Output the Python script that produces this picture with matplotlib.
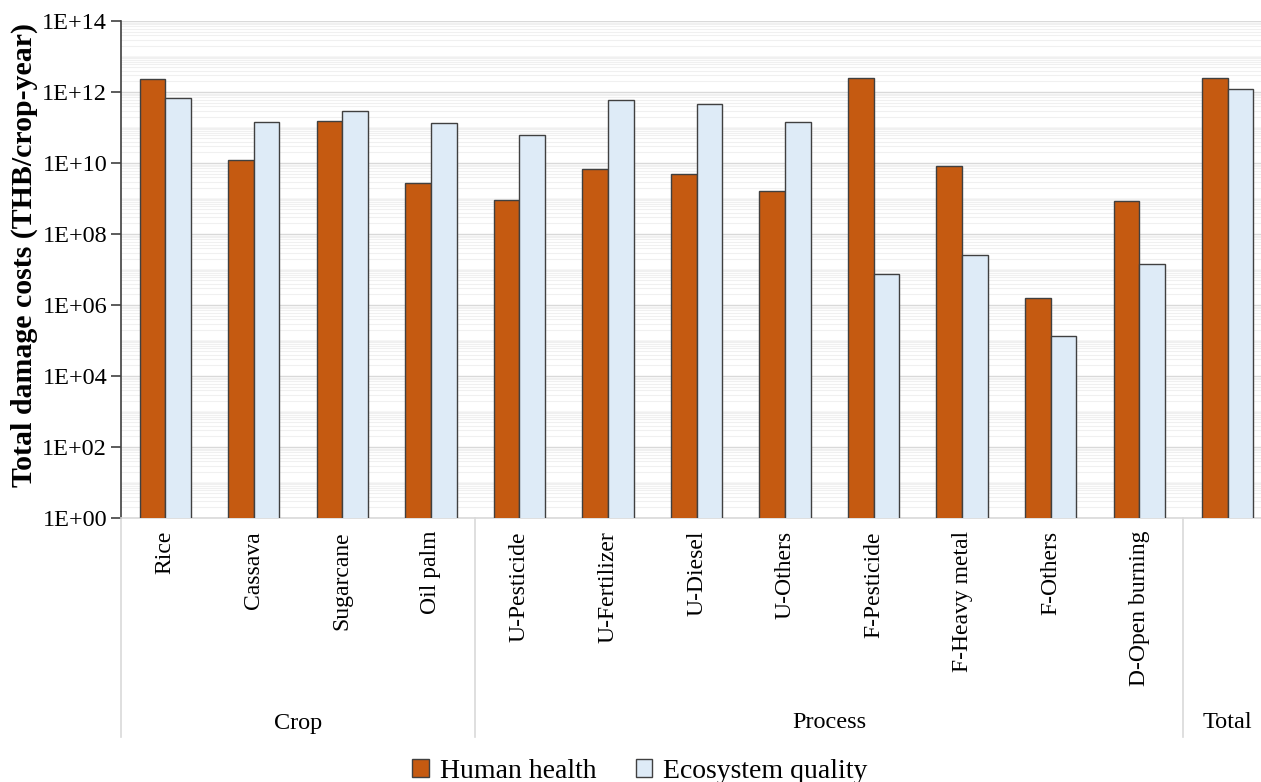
import numpy as np
import matplotlib
matplotlib.use("Agg")
import matplotlib.pyplot as plt
from matplotlib.patches import Patch
from matplotlib.ticker import LogLocator, NullFormatter, FixedLocator
import matplotlib.transforms as mtransforms

plt.rcParams["font.family"] = ["Liberation Serif", "DejaVu Serif"]

categories = ["Rice", "Cassava", "Sugarcane", "Oil palm",
              "U-Pesticide", "U-Fertilizer", "U-Diesel", "U-Others",
              "F-Pesticide", "F-Heavy metal", "F-Others", "D-Open burning",
              ""]
groups = ["Crop", "Process", "Total"]
group_sizes = [4, 8, 1]

human_health = [2.3e12, 1.2e10, 1.5e11, 2.7e9,
                9.0e8, 6.8e9, 4.9e9, 1.6e9,
                2.5e12, 8.3e9, 1.6e6, 8.5e8,
                2.5e12]
ecosystem_quality = [6.8e11, 1.4e11, 2.9e11, 1.3e11,
                     6.2e10, 5.9e11, 4.6e11, 1.4e11,
                     7.4e6, 2.6e7, 1.3e5, 1.4e7,
                     1.2e12]

HH_COLOR = "#C55A11"
EQ_COLOR = "#DEEBF7"
EDGE = "#404040"

fig = plt.figure(figsize=(12.61, 7.82), dpi=100)
ax = fig.add_axes([121 / 1261, 1 - 518 / 782, 1151 / 1261, 497 / 782])

x = np.arange(len(categories))
w = 0.29
ax.bar(x - w / 2, human_health, w, color=HH_COLOR, edgecolor=EDGE,
       linewidth=1.0, zorder=3, label="Human health")
ax.bar(x + w / 2, ecosystem_quality, w, color=EQ_COLOR, edgecolor=EDGE,
       linewidth=1.0, zorder=3, label="Ecosystem quality")

ax.set_yscale("log")
ax.set_ylim(1, 1e14)
ax.set_xlim(-0.5, len(categories) - 0.5)

ax.yaxis.set_major_locator(FixedLocator([10.0 ** k for k in range(0, 15, 2)]))
ax.set_yticklabels([f"1E+{k:02d}" for k in range(0, 15, 2)], fontsize=17.5)
ax.yaxis.set_minor_locator(LogLocator(base=10, subs=np.arange(1, 10), numticks=100))
ax.yaxis.set_minor_formatter(NullFormatter())
ax.tick_params(axis="y", which="major", length=7, width=1.2, color="#404040", pad=3)
ax.tick_params(axis="y", which="minor", length=0)

# gridlines: every decade darker, the in-between values faint
for k in range(0, 15):
    ax.axhline(10.0 ** k, color="#d9d9d9", linewidth=1.0, zorder=0)
ax.grid(True, which="minor", axis="y", color="#f0f0f0", linewidth=0.8, zorder=0)

ax.set_xticks([])
for side in ["top", "right"]:
    ax.spines[side].set_visible(False)
ax.spines["left"].set_color("#404040")
ax.spines["left"].set_linewidth(1.2)
ax.spines["bottom"].set_color("#d9d9d9")
ax.spines["bottom"].set_linewidth(1.2)

ax.set_ylabel("Total damage costs (THB/crop-year)", fontsize=21.5,
              fontweight="bold")
ax.yaxis.set_label_coords(-83 / 1151, (518 - 255) / 497)

# category labels (rotated) and group labels under the axis
trans = mtransforms.blended_transform_factory(ax.transData, ax.transAxes)
px = 1.0 / 497  # one pixel in axes fraction (vertical)
for xi, lab in zip(x, categories):
    ax.text(xi, -13 * px, lab, transform=trans, rotation=90,
            ha="center", va="top", fontsize=17)

start = -0.5
for g, n in zip(groups, group_sizes):
    ax.plot([start, start], [0, -219 * px], transform=trans, color="#d9d9d9",
            linewidth=1.2, clip_on=False)
    ax.text(start + n / 2, -205 * px, g, transform=trans, ha="center",
            va="center", fontsize=17.5)
    start += n

handles = [Patch(facecolor=HH_COLOR, edgecolor=EDGE, label="Human health"),
           Patch(facecolor=EQ_COLOR, edgecolor=EDGE, label="Ecosystem quality")]
fig.legend(handles=handles, loc="center", bbox_to_anchor=(640 / 1261, 1 - 771 / 782),
           ncol=2, frameon=False, fontsize=20, handlelength=0.6, handleheight=0.6,
           handletextpad=0.4, columnspacing=1.4)

fig.savefig("out.png", dpi=100)
